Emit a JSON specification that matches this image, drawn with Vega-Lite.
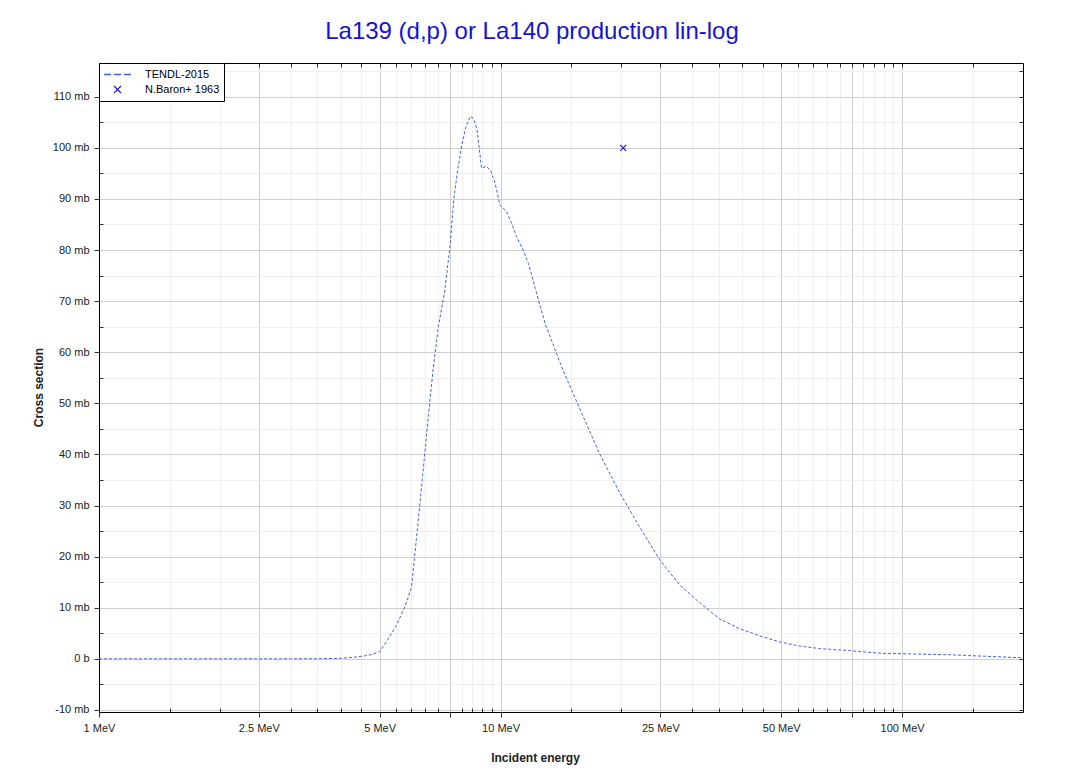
{
  "$schema": "https://vega.github.io/schema/vega-lite/v6.json",
  "width": 924,
  "height": 649,
  "autosize": {"type": "none"},
  "padding": {"left": 99, "top": 63, "right": 48, "bottom": 61},
  "background": "white",
  "title": {
    "text": "La139 (d,p) or La140 production lin-log",
    "fontSize": 24,
    "font": "Liberation Sans",
    "fontWeight": "normal",
    "color": "#1414d2",
    "anchor": "middle",
    "frame": "group",
    "dx": -29,
    "baseline": "alphabetic",
    "offset": 0
  },
  "config": {
    "view": {"stroke": null},
    "axis": {
      "labelFont": "Liberation Sans",
      "titleFont": "Liberation Sans",
      "labelFontSize": 11,
      "titleFontSize": 12,
      "titleFontWeight": "bold",
      "labelColor": "#222",
      "titleColor": "#222",
      "domainColor": "#000",
      "domainWidth": 1,
      "tickColor": "#333",
      "tickWidth": 1
    }
  },
  "datasets": {
    "tendl": [
      {"E": 1, "xs": 0, "series": "TENDL-2015"},
      {"E": 2, "xs": 0, "series": "TENDL-2015"},
      {"E": 3, "xs": 0, "series": "TENDL-2015"},
      {"E": 3.5, "xs": 0.02, "series": "TENDL-2015"},
      {"E": 4, "xs": 0.1, "series": "TENDL-2015"},
      {"E": 4.3, "xs": 0.3, "series": "TENDL-2015"},
      {"E": 4.6, "xs": 0.6, "series": "TENDL-2015"},
      {"E": 4.8, "xs": 0.9, "series": "TENDL-2015"},
      {"E": 5.0, "xs": 1.4, "series": "TENDL-2015"},
      {"E": 5.2, "xs": 3.4, "series": "TENDL-2015"},
      {"E": 5.5, "xs": 6.5, "series": "TENDL-2015"},
      {"E": 5.8, "xs": 10.5, "series": "TENDL-2015"},
      {"E": 6.0, "xs": 14.0, "series": "TENDL-2015"},
      {"E": 6.2, "xs": 25, "series": "TENDL-2015"},
      {"E": 6.4, "xs": 36, "series": "TENDL-2015"},
      {"E": 6.6, "xs": 47, "series": "TENDL-2015"},
      {"E": 6.8, "xs": 57, "series": "TENDL-2015"},
      {"E": 7.0, "xs": 65, "series": "TENDL-2015"},
      {"E": 7.26, "xs": 72, "series": "TENDL-2015"},
      {"E": 7.49, "xs": 81, "series": "TENDL-2015"},
      {"E": 7.65, "xs": 90, "series": "TENDL-2015"},
      {"E": 7.83, "xs": 96, "series": "TENDL-2015"},
      {"E": 8.01, "xs": 100.5, "series": "TENDL-2015"},
      {"E": 8.19, "xs": 104, "series": "TENDL-2015"},
      {"E": 8.41, "xs": 106.2, "series": "TENDL-2015"},
      {"E": 8.57, "xs": 105.7, "series": "TENDL-2015"},
      {"E": 8.74, "xs": 103.5, "series": "TENDL-2015"},
      {"E": 8.97, "xs": 96.0, "series": "TENDL-2015"},
      {"E": 9.21, "xs": 96.4, "series": "TENDL-2015"},
      {"E": 9.44, "xs": 95.6, "series": "TENDL-2015"},
      {"E": 9.69, "xs": 93.1, "series": "TENDL-2015"},
      {"E": 9.97, "xs": 88.8, "series": "TENDL-2015"},
      {"E": 10.35, "xs": 87.5, "series": "TENDL-2015"},
      {"E": 10.66, "xs": 85.2, "series": "TENDL-2015"},
      {"E": 10.96, "xs": 82.6, "series": "TENDL-2015"},
      {"E": 11.3, "xs": 80.6, "series": "TENDL-2015"},
      {"E": 11.73, "xs": 77.4, "series": "TENDL-2015"},
      {"E": 12.2, "xs": 72.5, "series": "TENDL-2015"},
      {"E": 12.9, "xs": 65.7, "series": "TENDL-2015"},
      {"E": 14.3, "xs": 56.5, "series": "TENDL-2015"},
      {"E": 15.8, "xs": 48.7, "series": "TENDL-2015"},
      {"E": 17.7, "xs": 39.9, "series": "TENDL-2015"},
      {"E": 19.8, "xs": 32.5, "series": "TENDL-2015"},
      {"E": 22.2, "xs": 25.8, "series": "TENDL-2015"},
      {"E": 24.9, "xs": 19.4, "series": "TENDL-2015"},
      {"E": 27.9, "xs": 14.5, "series": "TENDL-2015"},
      {"E": 31.3, "xs": 11.0, "series": "TENDL-2015"},
      {"E": 35.1, "xs": 7.8, "series": "TENDL-2015"},
      {"E": 39.4, "xs": 5.9, "series": "TENDL-2015"},
      {"E": 44.2, "xs": 4.5, "series": "TENDL-2015"},
      {"E": 49.6, "xs": 3.3, "series": "TENDL-2015"},
      {"E": 55.7, "xs": 2.5, "series": "TENDL-2015"},
      {"E": 62.5, "xs": 2.0, "series": "TENDL-2015"},
      {"E": 74.3, "xs": 1.6, "series": "TENDL-2015"},
      {"E": 88, "xs": 1.1, "series": "TENDL-2015"},
      {"E": 100, "xs": 1.0, "series": "TENDL-2015"},
      {"E": 131, "xs": 0.8, "series": "TENDL-2015"},
      {"E": 200, "xs": 0.2, "series": "TENDL-2015"}
    ],
    "exfor": [
      {"E": 20.2, "xs": 100, "series": "N.Baron+ 1963"}
    ]
  },
  "encoding": {
    "color": {
      "field": "series",
      "type": "nominal",
      "scale": {"domain": ["TENDL-2015", "N.Baron+ 1963"], "range": ["#3f63e6", "#1e1ebe"]},
      "legend": {
        "title": null,
        "orient": "top-left",
        "offset": 0,
        "padding": 4,
        "strokeColor": "#000",
        "fillColor": "#fff",
        "cornerRadius": 0,
        "labelFont": "Liberation Sans",
        "labelFontSize": 11,
        "labelColor": "#000",
        "symbolType": "stroke",
        "symbolSize": 100,
        "symbolOffset": 9,
        "symbolStrokeWidth": 1.5,
        "labelOffset": 22,
        "clipHeight": 15,
        "rowPadding": 0,
        "zindex": 2,
        "encode": {
          "symbols": {
            "update": {
              "shape": {"signal": "datum.value === 'TENDL-2015' ? 'stroke' : 'M-1,-1L1,1M1,-1L-1,1'"},
              "size": {"signal": "datum.value === 'TENDL-2015' ? 729 : 49"},
              "strokeDash": {"signal": "datum.value === 'TENDL-2015' ? [7,3] : [1,0]"},
              "stroke": {"signal": "datum.value === 'TENDL-2015' ? '#3f63e6' : '#1e1ebe'"},
              "fill": {"value": "transparent"},
              "strokeWidth": {"value": 1.3}
            }
          }
        }
      }
    }
  },
  "layer": [
    {
      "data": {"name": "tendl"},
      "mark": {"type": "line", "strokeDash": [3, 2], "strokeWidth": 1},
      "encoding": {
        "x": {
          "field": "E",
          "type": "quantitative",
          "scale": {"type": "log", "domain": [1, 200], "nice": false},
          "axis": {
            "title": "Incident energy",
            "orient": "bottom",
            "values": [1, 1.5, 2, 2.5, 3, 3.5, 4, 4.5, 5, 5.5, 6, 6.5, 7, 7.5, 8, 8.5, 9, 9.5, 10, 15, 20, 25, 30, 35, 40, 45, 50, 55, 60, 65, 70, 75, 80, 85, 90, 95, 100, 150],
            "grid": true,
            "gridColor": {"condition": {"test": "indexof([1,2.5,5,7.5,10,25,50,75,100], datum.value) >= 0", "value": "#cfcfcf"}, "value": "#efefef"},
            "tickSize": {"condition": {"test": "indexof([1,2.5,5,7.5,10,25,50,75,100], datum.value) >= 0", "value": 5}, "value": -4},
            "labelExpr": "indexof([1,2.5,5,10,25,50,100], datum.value) >= 0 ? datum.value + ' MeV' : ''",
            "labelFlush": false,
            "labelOverlap": false,
            "labelPadding": 5,
            "titleX": 436,
            "titleY": 45,
            "titleBaseline": "middle"
          }
        },
        "y": {
          "field": "xs",
          "type": "quantitative",
          "scale": {"domain": [-10.4, 116.6], "nice": false, "zero": false},
          "axis": {
            "title": "Cross section",
            "orient": "left",
            "values": [-10, -5, 0, 5, 10, 15, 20, 25, 30, 35, 40, 45, 50, 55, 60, 65, 70, 75, 80, 85, 90, 95, 100, 105, 110, 115],
            "grid": true,
            "gridColor": {"condition": {"test": "datum.value % 10 === 0", "value": "#cfcfcf"}, "value": "#efefef"},
            "tickSize": {"condition": {"test": "datum.value % 10 === 0", "value": 5}, "value": -4},
            "labelExpr": "datum.value % 10 === 0 ? (datum.value === 0 ? '0 b' : datum.value + ' mb') : ''",
            "labelOverlap": false,
            "labelPadding": 5,
            "titleX": -61,
            "titleY": 324,
            "titleBaseline": "middle",
            "titleAlign": "center"
          }
        }
      }
    },
    {
      "data": {"name": "exfor"},
      "mark": {"type": "point", "shape": "M-1,-1L1,1M1,-1L-1,1", "filled": false, "size": 36, "strokeWidth": 1.2, "opacity": 1},
      "encoding": {
        "x": {
          "field": "E",
          "type": "quantitative",
          "scale": {"type": "log", "domain": [1, 200], "nice": false},
          "axis": {
            "title": null,
            "orient": "top",
            "values": [1, 1.5, 2, 2.5, 3, 3.5, 4, 4.5, 5, 5.5, 6, 6.5, 7, 7.5, 8, 8.5, 9, 9.5, 10, 15, 20, 25, 30, 35, 40, 45, 50, 55, 60, 65, 70, 75, 80, 85, 90, 95, 100, 150],
            "grid": false,
            "labels": false,
            "tickSize": -4
          }
        },
        "y": {
          "field": "xs",
          "type": "quantitative",
          "scale": {"domain": [-10.4, 116.6], "nice": false, "zero": false},
          "axis": {
            "title": null,
            "orient": "right",
            "values": [-10, -5, 0, 5, 10, 15, 20, 25, 30, 35, 40, 45, 50, 55, 60, 65, 70, 75, 80, 85, 90, 95, 100, 105, 110, 115],
            "grid": false,
            "labels": false,
            "tickSize": -4
          }
        }
      }
    }
  ],
  "resolve": {"axis": {"x": "independent", "y": "independent"}}
}
